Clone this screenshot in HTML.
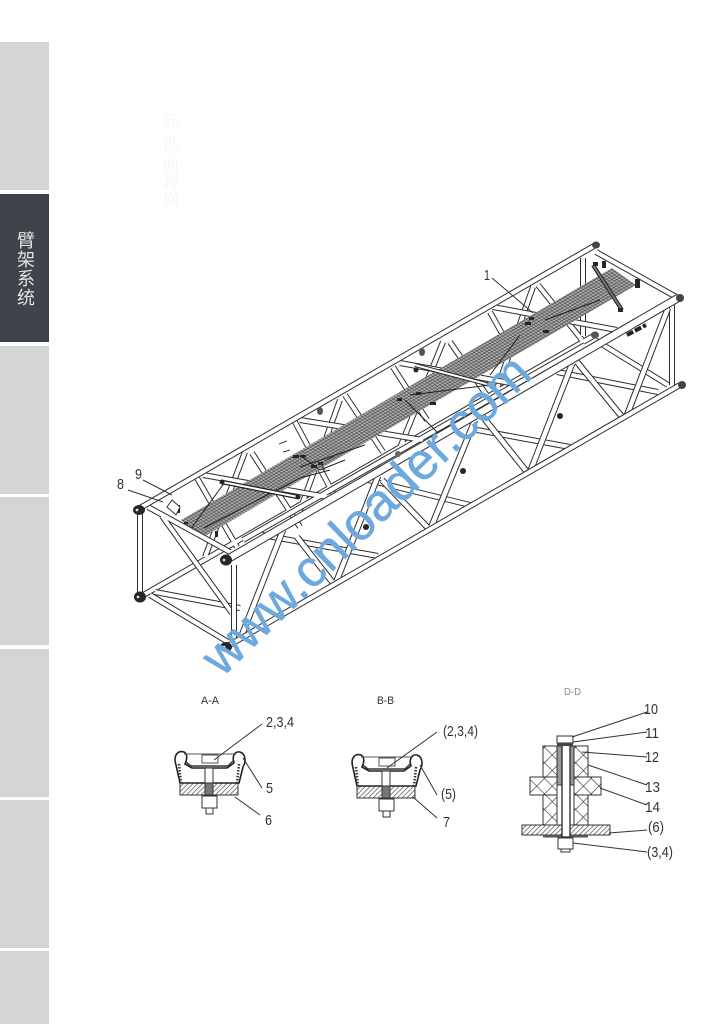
<!DOCTYPE html>
<html><head><meta charset="utf-8"><style>
html,body{margin:0;padding:0;background:#fff}
body{width:726px;height:1024px;position:relative;overflow:hidden}
svg{position:absolute;left:0;top:0}
.t{font-family:"Liberation Sans",sans-serif;fill:#333;font-size:15px}
.o{fill:none;stroke:#2e2e2e;stroke-linecap:butt}
.i{fill:none;stroke:#fff;stroke-linecap:butt}
.k{fill:#262626}
</style></head><body>
<svg width="726" height="1024" viewBox="0 0 726 1024">
<defs>
<pattern id="mesh" width="3" height="3" patternUnits="userSpaceOnUse" patternTransform="matrix(.866,-.5,.82,.57,0,0)">
<rect width="3" height="3" fill="#a8a8a8"/><path d="M0 0H3M0 0V3" stroke="#333" stroke-width=".9" fill="none"/></pattern>
<pattern id="h" width="3.4" height="3.4" patternUnits="userSpaceOnUse" patternTransform="rotate(45)">
<rect width="3.4" height="3.4" fill="#fff"/><path d="M0 0V3.4" stroke="#444" stroke-width="1.3"/></pattern>
<pattern id="x" width="11" height="11" patternUnits="userSpaceOnUse" patternTransform="rotate(45)">
<rect width="11" height="11" fill="#fff"/><path d="M0 0H11M0 0V11" stroke="#333" stroke-width="1.3" fill="none"/></pattern>
<path id="bk" d="M140 597L595 335M583 258V336M197 478L237 547M205 557L245 452M252 453L300 527M295 422L333 493M345 395L383 452M340 400L300 510M393 367L427 420M443 342L397 455M450 342L490 400M490 312L513 353M533 287L493 400M538 285L582 340"/>
<path id="fl" d="M155 592L240 608M262 535L378 556M368 480L470 505M477 430L570 447M557 372L658 392M595 340L668 385"/>
<path id="tc" d="M203 475L327 497M300 420L423 440M400 363L510 383M493 307L617 330M243 540L585 345"/>
<path id="end" d="M140 510V597M148 507L230 552M162 516L232 613M150 595L228 642M596 252L678 298M672 305V385"/>
<path id="fd" d="M240 640L283 530M297 537L333 583M335 585L378 476M382 480L430 530M430 530L475 420M483 417L527 472M530 472L572 364M577 362L623 418M627 415L668 308"/>
<path id="v" d="M234 565V645"/>
<g id="cup">
<rect x="180" y="783" width="58" height="12" fill="url(#h)" stroke="#333"/>
<path d="M176 765C173 755 178 750 184 752C188 754 187 760 185 764L192 768H227L234 763C232 757 234 751 240 752C246 754 246 762 243 767L239 783H180Z" fill="#fff" stroke="#222" stroke-width="1.6"/>
<path d="M179 764L181 783M239 764L237 783" stroke="#333" stroke-width="2.5" stroke-dasharray="1.5 1.5" fill="none"/>
<path d="M186 762L191 766H228L234 760" stroke="#333" stroke-width="1.4" fill="none"/>
<path d="M184 754H236" stroke="#555" stroke-width="1"/>
<rect x="205" y="768" width="8" height="27" fill="#fff" stroke="#333"/>
<rect x="205" y="783" width="8" height="12" fill="#777" stroke="#333"/>
<rect x="202" y="755" width="16" height="8" fill="#fff" stroke="#555"/>
<rect x="202" y="796" width="15" height="12" fill="#fff" stroke="#333"/>
<rect x="206" y="808" width="7" height="6" fill="#fff" stroke="#333"/>
</g>
</defs>
<!-- sidebar -->
<rect x="0" y="42" width="49" height="148" fill="#d2d4d6"/>
<rect x="0" y="194" width="49" height="148" fill="#404349"/>
<rect x="0" y="346" width="49" height="148" fill="#d2d4d6"/>
<rect x="0" y="497" width="49" height="148" fill="#d2d4d6"/>
<rect x="0" y="649" width="49" height="148" fill="#d2d4d6"/>
<rect x="0" y="800" width="49" height="148" fill="#d2d4d6"/>
<rect x="0" y="951" width="49" height="73" fill="#d2d4d6"/>
<g font-family="'Liberation Sans','Noto Sans CJK SC',sans-serif" font-size="18" fill="#e2e3e5" text-anchor="middle">
<text x="26" y="247">臂</text><text x="26" y="266">架</text><text x="26" y="285">系</text><text x="26" y="304">统</text>
</g>
<g font-family="'Liberation Serif','Noto Serif CJK SC',serif" font-size="16" fill="#f6f6f6" text-anchor="middle">
<text x="171" y="127">标</text><text x="171" y="149">准</text><text x="171" y="171">回</text><text x="171" y="187">转</text><text x="171" y="205">网</text>
</g>
<!-- truss back -->
<g>
<use href="#bk" class="o" stroke-width="6"/><use href="#bk" class="i" stroke-width="4"/>
<use href="#fl" class="o" stroke-width="6"/><use href="#fl" class="i" stroke-width="4"/>
<use href="#tc" class="o" stroke-width="6"/><use href="#tc" class="i" stroke-width="4"/>
<polygon points="181,520 612,268 636,285 200,539" fill="url(#mesh)"/>
<path d="M204 528L300 478L330 470M190 530L225 482M300 455L320 470L345 460M410 395L490 385M490 375L520 335M405 400L440 435M545 320L600 300" fill="none" stroke="#222" stroke-width="1"/>
<path d="M300 467L365 445" stroke="#222"/>
<path d="M222 482L298 497" stroke="#222" stroke-width="4.5"/><path d="M222 482L298 497" stroke="#fff" stroke-width="2"/>
<path d="M415 365L490 385" stroke="#222" stroke-width="4"/><path d="M415 365L490 385" stroke="#fff" stroke-width="2"/>
<path d="M593 265L622 310" stroke="#222" stroke-width="4"/><path d="M593 265L622 310" stroke="#777" stroke-width="2"/>
<use href="#end" class="o" stroke-width="6"/><use href="#end" class="i" stroke-width="4"/>
<path d="M140 508L594 246" class="o" stroke-width="6"/><path d="M140 508L594 246" class="i" stroke-width="4"/>
<use href="#fd" class="o" stroke-width="6.5"/><use href="#fd" class="i" stroke-width="4.5"/>
<use href="#v" class="o" stroke-width="6"/><use href="#v" class="i" stroke-width="4"/>
<path d="M226 560L678 298" class="o" stroke-width="8.5"/><path d="M226 560L678 298" class="i" stroke-width="6.5"/>
<path d="M226 647L680 385" class="o" stroke-width="6"/><path d="M226 647L680 385" class="i" stroke-width="4"/>
</g>
<!-- fittings -->
<g class="k">
<ellipse cx="139" cy="510" rx="6" ry="5"/><ellipse cx="226" cy="560" rx="6" ry="5.5"/><ellipse cx="140" cy="597" rx="6" ry="5.5"/><ellipse cx="226" cy="647" rx="6" ry="5"/>
<ellipse cx="596" cy="245" rx="4" ry="3.5" fill="#444"/><ellipse cx="680" cy="298" rx="4" ry="4" fill="#444"/><ellipse cx="682" cy="385" rx="4" ry="4" fill="#444"/><ellipse cx="595" cy="335" rx="4" ry="3.5" fill="#555"/>
<ellipse cx="422" cy="352" rx="3" ry="4" fill="#555"/><ellipse cx="320" cy="411" rx="3" ry="4" fill="#555"/><ellipse cx="398" cy="454" rx="3" ry="3" fill="#666"/>
<circle cx="366" cy="527" r="3"/><circle cx="463" cy="471" r="3"/><circle cx="560" cy="416" r="3"/>
<circle cx="222" cy="482" r="2.5"/><circle cx="298" cy="497" r="2.5"/><circle cx="416" cy="370" r="2.5"/><circle cx="489" cy="384" r="2.5"/>
<rect x="293" y="455" width="6" height="3"/><rect x="300" y="455" width="6" height="2.5"/><rect x="311" y="465" width="6" height="3"/><rect x="318" y="462" width="5" height="3"/>
<rect x="397" y="398" width="5" height="3"/><rect x="416" y="392" width="5" height="3"/><rect x="430" y="402" width="6" height="3"/><rect x="529" y="317" width="5" height="3"/><rect x="543" y="330" width="6" height="3"/><rect x="525" y="322" width="6" height="3"/>
<rect x="593" y="262" width="5" height="4"/><rect x="602" y="261" width="4" height="7"/><rect x="635" y="279" width="5" height="9"/><rect x="618" y="308" width="5" height="4"/>
<rect x="176" y="505" width="4" height="8"/><rect x="215" y="531" width="3" height="6"/><rect x="184" y="522" width="4" height="2"/>
<path d="M627 335L646 325" stroke="#222" stroke-width="4" stroke-dasharray="7 2" fill="none"/>
</g>
<g fill="#ddd"><circle cx="137" cy="510" r="1.4"/><circle cx="224" cy="560" r="1.4"/><circle cx="138" cy="597" r="1.4"/><circle cx="224" cy="647" r="1.4"/></g>
<path d="M172 500L180 507L176 515L167 507Z" fill="#fff" stroke="#333"/>
<path d="M279 444L287 441M283 452L290 450M320 463L325 470M325 461L335 456" stroke="#444" fill="none"/>
<!-- watermark -->
<text x="222" y="678" transform="rotate(-44 222 678)" font-family="'Liberation Sans',sans-serif" font-size="52" fill="#6ea9dd" stroke="#6ea9dd" stroke-width=".5" textLength="434" lengthAdjust="spacingAndGlyphs">www.cnloader.com</text>
<!-- sections -->
<use href="#cup"/>
<use href="#cup" x="177" y="3"/>
<g>
<rect x="522" y="825" width="88" height="10" fill="url(#h)" stroke="#333"/>
<rect x="543" y="835" width="45" height="2.5" fill="#555"/>
<rect x="543" y="746" width="14" height="79" fill="url(#x)" stroke="#333"/>
<rect x="574" y="746" width="14" height="79" fill="url(#x)" stroke="#333"/>
<rect x="530" y="777" width="27" height="18" fill="url(#x)" stroke="#333"/>
<rect x="574" y="777" width="27" height="18" fill="url(#x)" stroke="#333"/>
<rect x="557" y="746" width="5" height="39" fill="#999" stroke="#333"/>
<rect x="570" y="746" width="4" height="39" fill="#999" stroke="#333"/>
<rect x="562" y="743" width="8" height="94" fill="#fff" stroke="#333" stroke-width="1.4"/>
<rect x="557" y="736" width="16" height="7" fill="#fff" stroke="#333"/>
<rect x="557" y="743" width="16" height="3" fill="#444"/>
<rect x="558" y="838" width="15" height="11" fill="#fff" stroke="#333"/>
<rect x="561" y="849" width="9" height="3" fill="#fff" stroke="#333"/>
</g>
<!-- leaders -->
<path d="M492 278L533 313M128 490L163 502M143 480L172 495M262 724L214 760M262 788L243 758M260 815L235 797M437 732L387 768M437 795L420 765M437 818L413 797M647 712L572 737M647 732L573 742M647 757L582 752M647 785L588 765M647 805L600 788M647 830L609 833M647 852L573 843" stroke="#333" stroke-width="1" fill="none"/>
<!-- labels -->
<g class="t">
<text x="484" y="280" textLength="6" lengthAdjust="spacingAndGlyphs">1</text>
<text x="117" y="489" textLength="7" lengthAdjust="spacingAndGlyphs">8</text>
<text x="135" y="479" textLength="7" lengthAdjust="spacingAndGlyphs">9</text>
<text x="266" y="727" textLength="28" lengthAdjust="spacingAndGlyphs">2,3,4</text>
<text x="266" y="793" textLength="7" lengthAdjust="spacingAndGlyphs">5</text>
<text x="265" y="825" textLength="7" lengthAdjust="spacingAndGlyphs">6</text>
<text x="443" y="736" textLength="35" lengthAdjust="spacingAndGlyphs">(2,3,4)</text>
<text x="441" y="799" textLength="15" lengthAdjust="spacingAndGlyphs">(5)</text>
<text x="443" y="827" textLength="7" lengthAdjust="spacingAndGlyphs">7</text>
<text x="644" y="714" textLength="14" lengthAdjust="spacingAndGlyphs">10</text>
<text x="645" y="738" textLength="14" lengthAdjust="spacingAndGlyphs">11</text>
<text x="645" y="762" textLength="14" lengthAdjust="spacingAndGlyphs">12</text>
<text x="645" y="792" textLength="15" lengthAdjust="spacingAndGlyphs">13</text>
<text x="645" y="812" textLength="15" lengthAdjust="spacingAndGlyphs">14</text>
<text x="648" y="832" textLength="16" lengthAdjust="spacingAndGlyphs">(6)</text>
<text x="647" y="857" textLength="26" lengthAdjust="spacingAndGlyphs">(3,4)</text>
<text x="201" y="704" textLength="18" lengthAdjust="spacingAndGlyphs" style="font-size:11px">A-A</text>
<text x="377" y="704" textLength="17" lengthAdjust="spacingAndGlyphs" style="font-size:11px">B-B</text>
<text x="564" y="695" textLength="17" lengthAdjust="spacingAndGlyphs" style="font-size:10px;fill:#888">D-D</text>
</g>
</svg>
</body></html>
